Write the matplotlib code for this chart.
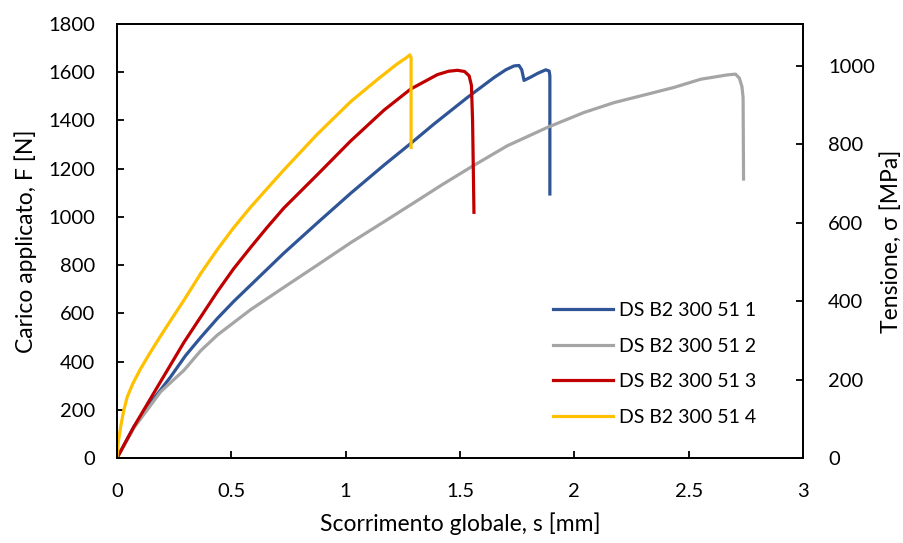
import matplotlib

matplotlib.use("Agg")
import matplotlib.pyplot as plt


OUT_PATH = "out.png"

LABELS = ["DS B2 300 51 1", "DS B2 300 51 2", "DS B2 300 51 3", "DS B2 300 51 4"]
COLORS = ["#2F5597", "#A5A5A5", "#C00000", "#FFC000"]

# slip s [mm] / load F [N]
S1 = [0, 0.074, 0.16, 0.234, 0.3, 0.366, 0.44, 0.511, 0.730, 0.876, 1.022, 1.168, 1.285, 1.386,
      1.532, 1.649, 1.700, 1.736, 1.758, 1.770, 1.780, 1.810, 1.839, 1.875, 1.890, 1.893, 1.893]
F1 = [0, 130, 245, 336, 425, 500, 580, 650, 850, 975, 1098, 1215, 1305, 1385,
      1495, 1578, 1610, 1626, 1628, 1610, 1566, 1580, 1595, 1610, 1605, 1585, 1095]

S2 = [0, 0.074, 0.191, 0.293, 0.366, 0.439, 0.584, 0.730, 0.876, 1.022, 1.168, 1.314,
      1.416, 1.547, 1.707, 1.882, 2.042, 2.174, 2.320, 2.436, 2.553, 2.670, 2.705,
      2.722, 2.733, 2.738, 2.740]
F2 = [0, 125, 275, 364, 445, 510, 615, 708, 800, 893, 980, 1068,
      1130, 1206, 1295, 1371, 1433, 1474, 1509, 1537, 1571, 1589, 1592,
      1575, 1540, 1495, 1157]

S3 = [0, 0.074, 0.18, 0.293, 0.439, 0.51, 0.584, 0.657, 0.730, 0.876, 1.022, 1.168,
      1.284, 1.401, 1.450, 1.489, 1.520, 1.540, 1.550, 1.555, 1.561]
F3 = [0, 130, 300, 480, 690, 785, 873, 957, 1037, 1175, 1315, 1443,
      1530, 1590, 1604, 1608, 1603, 1585, 1545, 1400, 1019]

S4 = [0, 0.005, 0.016, 0.03, 0.045, 0.07, 0.103, 0.147, 0.2, 0.293, 0.366, 0.439, 0.51,
      0.584, 0.657, 0.730, 0.876, 1.022, 1.139, 1.226, 1.265, 1.281, 1.286, 1.286]
F4 = [0, 60, 130, 200, 254, 310, 370, 440, 520, 655, 765, 865, 955,
      1040, 1118, 1195, 1343, 1478, 1570, 1635, 1660, 1672, 1660, 1288]

SERIES_X = [S1, S2, S3, S4]
SERIES_Y = [F1, F2, F3, F4]

X_TICKS = [0, 0.5, 1, 1.5, 2, 2.5, 3]
X_TICK_LABELS = ["0", "0.5", "1", "1.5", "2", "2.5", "3"]
F_TICKS = list(range(0, 1801, 200))
SIGMA_TICKS = list(range(0, 1001, 200))
SIGMA_MAX = 1107  # matches 1800 N on the left axis

FONT = "Lato"
TICK_FS = 14.5
TITLE_FS = 16.5
LEGEND_FS = 14


def style_axis(ax) -> None:
    for side in ["left", "right", "top", "bottom"]:
        ax.spines[side].set_linewidth(1.3)
        ax.spines[side].set_color("black")
    ax.tick_params(direction="in", length=5, width=1.3, labelsize=TICK_FS, colors="black")


def main() -> None:
    plt.rcParams["font.family"] = [FONT, "DejaVu Sans"]
    fig = plt.figure(figsize=(9.04, 5.43), dpi=100)
    ax = fig.add_axes([117 / 904, 1 - 458 / 543, (803 - 117) / 904, (458 - 24) / 543])

    for xs, ys, color, label in zip(SERIES_X, SERIES_Y, COLORS, LABELS):
        ax.plot(xs, ys, color=color, lw=2.3, label=label, solid_joinstyle="round")

    ax.set_xlim(0, 3)
    ax.set_ylim(0, 1800)
    ax.set_xticks(X_TICKS)
    ax.set_xticklabels(X_TICK_LABELS)
    ax.set_yticks(F_TICKS)
    ax.set_xlabel("Scorrimento globale, s [mm]", fontsize=TITLE_FS, labelpad=9)
    ax.set_ylabel("Carico applicato, F [N]", fontsize=TITLE_FS, labelpad=8)
    style_axis(ax)
    ax.tick_params(axis="x", pad=18)
    ax.tick_params(axis="y", pad=16)

    ax2 = ax.twinx()
    ax2.set_ylim(0, SIGMA_MAX)
    ax2.set_yticks(SIGMA_TICKS)
    ax2.set_ylabel("Tensione, σ [MPa]", fontsize=TITLE_FS, labelpad=4)
    style_axis(ax2)
    ax2.tick_params(axis="y", pad=18)

    handles, labels = ax.get_legend_handles_labels()
    fig.legend(
        handles,
        labels,
        loc="center left",
        bbox_to_anchor=(553 / 904, 1 - 364 / 543),
        frameon=False,
        fontsize=LEGEND_FS,
        handlelength=3.1,
        handletextpad=0.3,
        labelspacing=0.95,
        borderpad=0,
        borderaxespad=0,
    )

    fig.savefig(OUT_PATH, dpi=100)
    plt.close(fig)


if __name__ == "__main__":
    main()
